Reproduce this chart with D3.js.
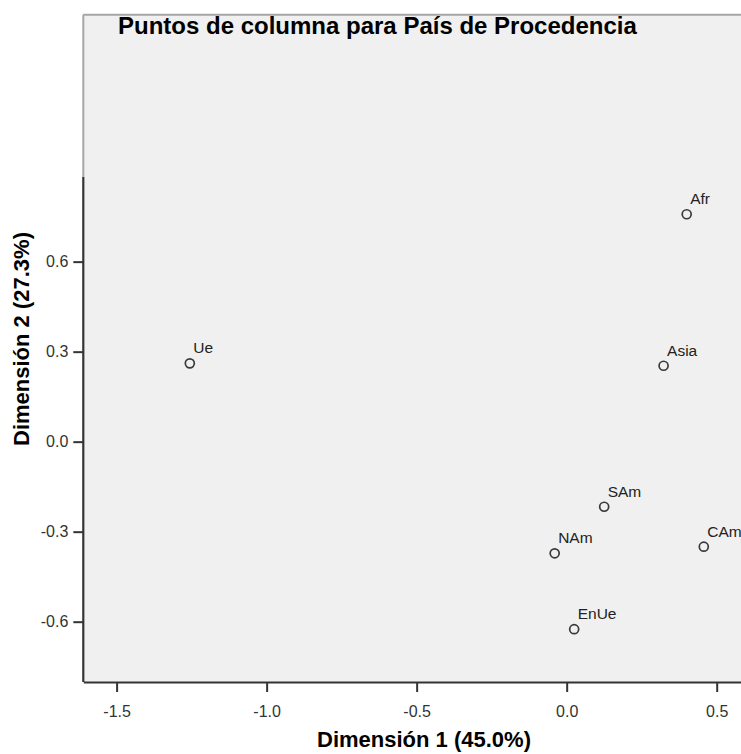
<!DOCTYPE html>
<html>
<head>
<meta charset="utf-8">
<script src="https://cdn.jsdelivr.net/npm/d3@7"></script>
<style>
  html, body { margin: 0; padding: 0; background: #ffffff; }
  svg { display: block; }
  text { font-family: "Liberation Sans", Arial, sans-serif; }
</style>
</head>
<body>
<svg id="chart" width="741" height="754"></svg>
<script>
// Column points: country of origin
const categories = ["Ue", "Afr", "Asia", "SAm", "NAm", "CAm", "EnUe"];
const dim1Values = [-1.256, 0.400, 0.323, 0.125, -0.040, 0.457, 0.025];
const dim2Values = [0.261, 0.758, 0.253, -0.217, -0.372, -0.350, -0.625];
const xTicks = [-1.5, -1.0, -0.5, 0.0, 0.5];
const yTicks = [-0.6, -0.3, 0.0, 0.3, 0.6];

const titleText = "Puntos de columna para País de Procedencia";
const xTitle = "Dimensión 1 (45.0%)";
const yTitle = "Dimensión 2 (27.3%)";

const svg = d3.select("#chart");

const plot = { left: 83.3, right: 741, top: 14.7, bottom: 682 };

const x = d3.scaleLinear().domain([-1.611, 0.581]).range([plot.left, plot.right]);
const y = d3.scaleLinear().domain([-0.801, 1.423]).range([plot.bottom, plot.top]);

// Plot background and light frame
svg.append("rect")
  .attr("x", plot.left).attr("y", plot.top)
  .attr("width", plot.right - plot.left).attr("height", plot.bottom - plot.top)
  .attr("fill", "#f0f0f0");
svg.append("line")
  .attr("x1", plot.left).attr("x2", plot.right)
  .attr("y1", plot.top).attr("y2", plot.top)
  .attr("stroke", "#a6a6a6").attr("stroke-width", 2);
svg.append("line")
  .attr("x1", plot.left).attr("x2", plot.left)
  .attr("y1", plot.top).attr("y2", plot.bottom)
  .attr("stroke", "#a6a6a6").attr("stroke-width", 2);

const fmt = d => d.toFixed(1);

// X axis
const xAxis = svg.append("g")
  .attr("transform", `translate(0,${plot.bottom})`)
  .call(d3.axisBottom(x).tickValues(xTicks).tickFormat(fmt)
    .tickSize(10).tickSizeOuter(0).tickPadding(14));
xAxis.select(".domain").attr("stroke", "#333").attr("stroke-width", 2);
xAxis.selectAll(".tick line").attr("stroke", "#333").attr("stroke-width", 2);
xAxis.selectAll(".tick text")
  .attr("fill", "#333").style("font-size", "16px").style("font-family", "Liberation Sans, Arial, sans-serif");

// Y axis: the axis line reaches up to 0.88
const yAxis = svg.append("g")
  .attr("transform", `translate(${plot.left},0)`)
  .call(d3.axisLeft(y).tickValues(yTicks).tickFormat(fmt)
    .tickSize(10).tickSizeOuter(0).tickPadding(5));
yAxis.select(".domain").remove();
yAxis.append("line")
  .attr("x1", 0).attr("x2", 0)
  .attr("y1", y(0.882)).attr("y2", plot.bottom)
  .attr("stroke", "#333").attr("stroke-width", 2);
yAxis.selectAll(".tick line").attr("stroke", "#333").attr("stroke-width", 2);
yAxis.selectAll(".tick text")
  .attr("fill", "#333").style("font-size", "16px").style("font-family", "Liberation Sans, Arial, sans-serif");

// Points and labels
const pts = categories.map((c, i) => ({ name: c, d1: dim1Values[i], d2: dim2Values[i] }));
const g = svg.append("g");
g.selectAll("circle").data(pts).join("circle")
  .attr("cx", d => x(d.d1)).attr("cy", d => y(d.d2))
  .attr("r", 4.5)
  .attr("fill", "#f0f0f0").attr("stroke", "#3a3a3a").attr("stroke-width", 1.7);
g.selectAll("text").data(pts).join("text")
  .attr("x", d => x(d.d1) + 3.5).attr("y", d => y(d.d2) - 10)
  .attr("fill", "#222").style("font-size", "15.5px")
  .text(d => d.name);

// Title
svg.append("text")
  .attr("x", 118).attr("y", 34)
  .attr("fill", "#000").style("font-size", "24px").style("font-weight", "bold")
  .text(titleText);

// Axis titles
svg.append("text")
  .attr("x", 424).attr("y", 747)
  .attr("text-anchor", "middle")
  .attr("fill", "#000").style("font-size", "22px").style("font-weight", "bold")
  .text(xTitle);
svg.append("text")
  .attr("transform", "translate(28.5,339) rotate(-90)")
  .attr("text-anchor", "middle")
  .attr("fill", "#000").style("font-size", "22px").style("font-weight", "bold")
  .text(yTitle);
</script>
</body>
</html>
